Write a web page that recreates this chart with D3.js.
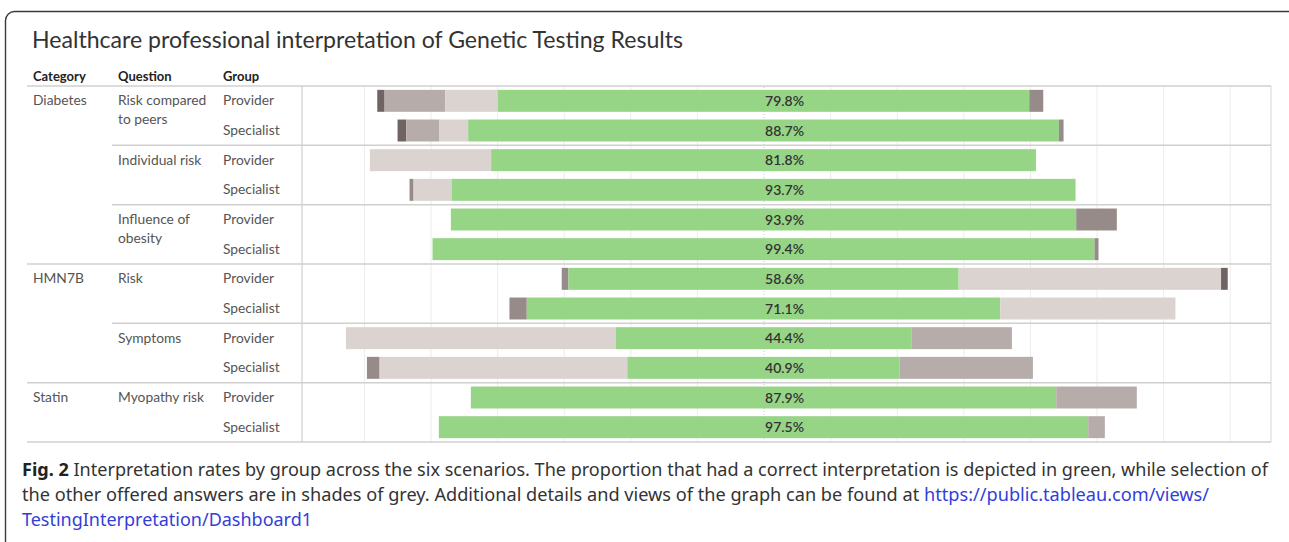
<!DOCTYPE html>
<html><head><meta charset="utf-8">
<script src="https://cdn.jsdelivr.net/npm/d3@7"></script>
<style>
html,body{margin:0;padding:0;background:#fff;}
svg{display:block;}
</style></head>
<body>
<svg id="chart" width="1289" height="542"></svg>
<script>
// ---------------- DATA ----------------
const titleText = "Healthcare professional interpretation of Genetic Testing Results";
const headers = ["Category", "Question", "Group"];
const categories = ["Diabetes", "HMN7B", "Statin"];
const questionLines = [["Risk compared", "to peers"], ["Individual risk"], ["Influence of", "obesity"], ["Risk"], ["Symptoms"], ["Myopathy risk"]];
const questionCategory = ["Diabetes", "Diabetes", "Diabetes", "HMN7B", "HMN7B", "Statin"];
const groups = ["Provider", "Specialist"];
// percent correct, per question x group (row order)
const correctPct = [79.8, 88.7, 81.8, 93.7, 93.9, 99.4, 58.6, 71.1, 44.4, 40.9, 87.9, 97.5];
const answerTypes = ["Correct", "Other answer 1", "Other answer 2", "Other answer 3", "Other answer 4"];
// other answers left of the green bar (outer -> inner)
const leftAnswers = [
  [["Other answer 1", 1.1], ["Other answer 3", 9.1], ["Other answer 4", 7.9]],
  [["Other answer 1", 1.3], ["Other answer 3", 5.0], ["Other answer 4", 4.3]],
  [["Other answer 4", 18.2]],
  [["Other answer 2", 0.6], ["Other answer 4", 5.7]],
  [],
  [],
  [["Other answer 2", 1.0]],
  [["Other answer 2", 2.6]],
  [["Other answer 4", 40.5]],
  [["Other answer 2", 1.9], ["Other answer 4", 37.2]],
  [],
  []
];
// other answers right of the green bar (inner -> outer)
const rightAnswers = [
  [["Other answer 2", 2.1]],
  [["Other answer 2", 0.7]],
  [],
  [],
  [["Other answer 2", 6.1]],
  [["Other answer 2", 0.6]],
  [["Other answer 4", 39.4], ["Other answer 1", 1.0]],
  [["Other answer 4", 26.3]],
  [["Other answer 3", 15.1]],
  [["Other answer 3", 20.0]],
  [["Other answer 3", 12.1]],
  [["Other answer 3", 2.5]]
];
const gridTicks = [-60, -50, -40, -30, -20, -10, 0, 10, 20, 30, 40, 50, 60, 70];
const captionBold = "Fig. 2";
const captionLine1 = " Interpretation rates by group across the six scenarios. The proportion that had a correct interpretation is depicted in green, while selection of";
const captionLine2 = "the other offered answers are in shades of grey. Additional details and views of the graph can be found at ";
const captionLink1 = "https://public.tableau.com/views/";
const captionLink2 = "TestingInterpretation/Dashboard1";

// ---------------- LAYOUT ----------------
const svg = d3.select("#chart");
const FONT = "Lato, 'Noto Sans', sans-serif";
const plotL = 302, plotR = 1271, plotT = 86, plotB = 442;

const color = d3.scaleOrdinal(answerTypes, ["#96d486", "#6f6462", "#968b88", "#b6aca9", "#dbd3cf"]);
const x = d3.scaleLinear().domain([-69.3, 76.2]).range([plotL, plotR]);
const nRows = correctPct.length;
const y = d3.scaleBand().domain(d3.range(nRows)).range([plotT, plotB]).paddingInner(0.26).paddingOuter(0.13);
const step = y.step();

// card border
svg.append("rect").attr("x", 5.5).attr("y", 11.5).attr("width", 1300).attr("height", 600).attr("rx", 9)
  .attr("fill", "none").attr("stroke", "#3a3a3a").attr("stroke-width", 1.4);

// title
svg.append("text").attr("x", 32).attr("y", 48).attr("font-family", FONT).attr("font-size", 23)
  .attr("fill", "#333").attr("textLength", 651).attr("lengthAdjust", "spacingAndGlyphs").text(titleText);

// headers
const headerX = [33, 118, 223];
svg.selectAll("text.hdr").data(headers).join("text").attr("class", "hdr")
  .attr("x", (d, i) => headerX[i]).attr("y", 81).attr("font-family", FONT).attr("font-weight", 700)
  .attr("font-size", 13).attr("fill", "#222").text(d => d);

// gridlines
const gAxis = svg.append("g").attr("transform", `translate(0,${plotB})`)
  .call(d3.axisBottom(x).tickValues(gridTicks).tickSize(-(plotB - plotT)).tickFormat(""));
gAxis.select(".domain").remove();
gAxis.selectAll(".tick line").attr("stroke-width", 1)
  .attr("stroke-dasharray", d => d === 0 ? "1,2" : null)
  .attr("stroke", d => d === 0 ? "#c8c8c8" : "#ececec");

// bars
const segs = [];
for (let r = 0; r < nRows; r++) {
  let pos = -correctPct[r] / 2 - d3.sum(leftAnswers[r], d => d[1]);
  const list = [...leftAnswers[r], ["Correct", correctPct[r]], ...rightAnswers[r]];
  for (const [type, v] of list) {
    segs.push({ row: r, type, x0: pos, x1: pos + v });
    pos += v;
  }
}
svg.append("g").selectAll("rect").data(segs).join("rect")
  .attr("x", d => x(d.x0)).attr("width", d => x(d.x1) - x(d.x0))
  .attr("y", d => y(d.row)).attr("height", y.bandwidth())
  .attr("fill", d => color(d.type));

// value labels
svg.append("g").selectAll("text").data(correctPct).join("text")
  .attr("x", x(0) + 1.5).attr("y", (d, i) => y(i) + y.bandwidth() / 2 + 5)
  .attr("font-family", FONT).attr("font-size", 14).attr("font-weight", 600)
  .attr("fill", "#333").text(d => d.toFixed(1) + "%");

// frame lines
const line = (x1, y1, x2, y2, c, w) => svg.append("line").attr("x1", x1).attr("y1", y1).attr("x2", x2).attr("y2", y2)
  .attr("stroke", c).attr("stroke-width", w);
line(27, plotT, plotR, plotT, "#d0d0d0", 1.5);
line(27, plotB, plotR, plotB, "#d0d0d0", 1.5);
line(plotL, plotT, plotL, plotB, "#cfcfcf", 1.2);
line(plotR, plotT, plotR, plotB, "#dcdcdc", 1.2);
for (let q = 1; q < questionLines.length; q++) {
  const yy = plotT + step * q * 2;
  const newCat = questionCategory[q] !== questionCategory[q - 1];
  line(newCat ? 27 : 112, yy, plotR, yy, "#d0d0d0", 1.5);
}

// row labels
const lab = (tx, ty, s) => svg.append("text").attr("x", tx).attr("y", ty).attr("font-family", FONT)
  .attr("font-size", 13.8).attr("fill", "#555").text(s);
questionLines.forEach((lines, q) => {
  const rowY = y(q * 2) + y.bandwidth() / 2 + 4.5;
  if (q === 0 || questionCategory[q] !== questionCategory[q - 1]) lab(33, rowY, questionCategory[q]);
  lines.forEach((s, k) => lab(118, rowY + k * 18.5, s));
  groups.forEach((g, gi) => lab(223, y(q * 2 + gi) + y.bandwidth() / 2 + 4.5, g));
});

// caption
const cap1 = svg.append("text").attr("x", 22).attr("y", 476).attr("font-family", "'Noto Sans', sans-serif")
  .attr("font-size", 18).attr("fill", "#333").attr("textLength", 1246).attr("lengthAdjust", "spacingAndGlyphs");
cap1.append("tspan").attr("font-weight", 700).attr("fill", "#222").text(captionBold);
cap1.append("tspan").text(captionLine1);
const cap2 = svg.append("text").attr("x", 22).attr("y", 501).attr("font-family", "'Noto Sans', sans-serif")
  .attr("font-size", 18).attr("fill", "#333").attr("textLength", 1187).attr("lengthAdjust", "spacingAndGlyphs");
cap2.append("tspan").text(captionLine2);
cap2.append("tspan").attr("fill", "#3340d8").text(captionLink1);
svg.append("text").attr("x", 22).attr("y", 526).attr("font-family", "'Noto Sans', sans-serif")
  .attr("font-size", 18).attr("fill", "#3340d8").attr("textLength", 290).attr("lengthAdjust", "spacingAndGlyphs")
  .text(captionLink2);
</script>
</body></html>
